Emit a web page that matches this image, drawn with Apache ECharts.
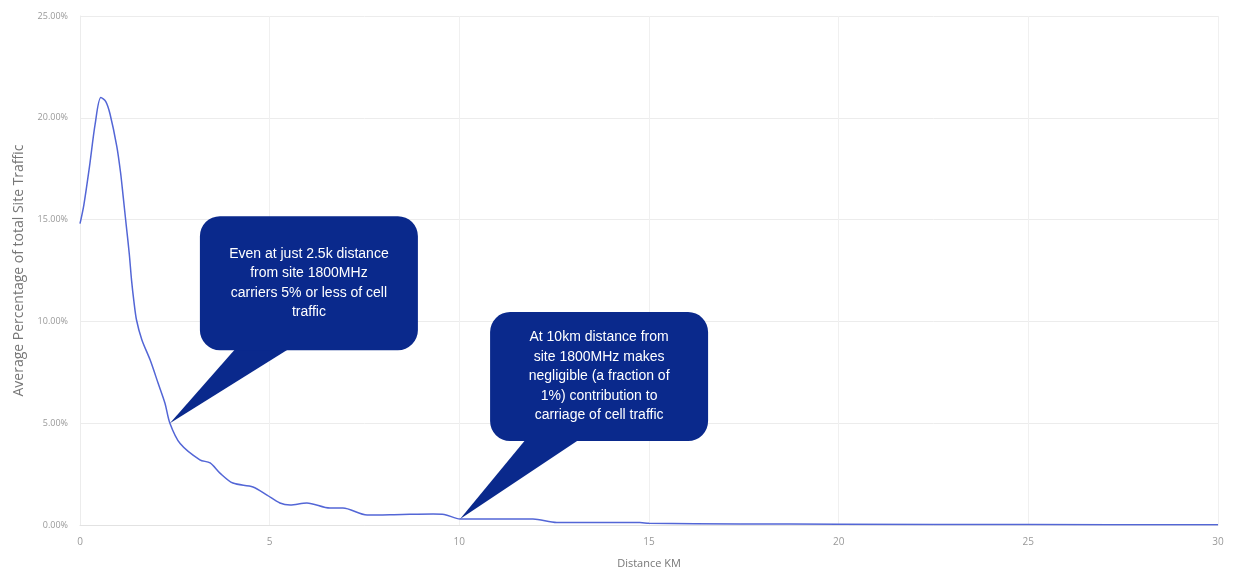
<!DOCTYPE html>
<html>
<head>
<meta charset="utf-8">
<title>Traffic by distance</title>
<script src="https://cdn.jsdelivr.net/npm/echarts@6/dist/echarts.min.js"></script>
<style>
  html, body { margin: 0; padding: 0; background: #fff; }
  #chart { width: 1246px; height: 584px; }
</style>
</head>
<body>
<div id="chart"></div>
<script>
// distance from site (km)
var distanceKm = [0, 0.1, 0.25, 0.4, 0.55, 0.68, 0.79, 0.97, 1.07, 1.14, 1.22, 1.30, 1.36, 1.42, 1.49, 1.63,
    1.85, 2.06, 2.24, 2.37, 2.64, 3.16, 3.43, 3.69, 4.03, 4.56, 4.93, 5.27, 5.54, 5.98, 6.59, 6.93,
    7.57, 8.5, 9.31, 9.6, 10.02, 11.94, 12.57, 14.76, 15.0, 17.4, 20, 25, 30];
// average percentage of total site traffic
var trafficPct = [14.8, 15.7, 17.6, 19.7, 21.0, 20.8, 20.2, 18.6, 17.3, 16.1, 14.7, 13.3, 12.0, 11.0, 10.07, 9.1,
    8.1, 6.96, 5.98, 5.0, 4.0, 3.2, 3.05, 2.55, 2.06, 1.87, 1.47, 1.08, 0.98, 1.08, 0.83, 0.83,
    0.49, 0.52, 0.54, 0.52, 0.29, 0.29, 0.12, 0.12, 0.08, 0.05, 0.04, 0.02, 0.01];

// callouts: point they refer to + text
var calloutAt = [[2.37, 5.0], [10.02, 0.29]];
var calloutText = [
    'Even at just 2.5k distance\nfrom site 1800MHz\ncarriers 5% or less of cell\ntraffic',
    'At 10km distance from\nsite 1800MHz makes\nnegligible (a fraction of\n1%) contribution to\ncarriage of cell traffic'
];
var calloutHeight = [134, 129];
var calloutLift = [73, 78];

var myChart = echarts.init(document.getElementById('chart'));

var points = [];
for (var i = 0; i < distanceKm.length; i++) {
    points.push([distanceKm[i], trafficPct[i]]);
}

var option = {
    backgroundColor: '#fff',
    animation: false,
    grid: { left: 80, right: 28, top: 16, bottom: 59 },
    xAxis: {
        type: 'value',
        min: 0,
        max: 30,
        interval: 5,
        name: 'Distance KM',
        nameLocation: 'middle',
        nameGap: 33,
        nameTextStyle: { color: '#777', fontSize: 11, fontFamily: 'Open Sans' },
        axisLine: { show: true, lineStyle: { color: '#e2e2e2' } },
        axisTick: { show: false },
        axisLabel: { color: '#999', fontSize: 10, margin: 12, fontFamily: 'Open Sans' },
        splitLine: { show: true, lineStyle: { color: '#f0f0f0' } }
    },
    yAxis: {
        type: 'value',
        min: 0,
        max: 25,
        interval: 5,
        name: 'Average Percentage of total Site Traffic',
        nameLocation: 'middle',
        nameGap: 54,
        nameTextStyle: { color: '#777', fontSize: 14, fontFamily: 'Open Sans' },
        axisLine: { show: true, lineStyle: { color: '#ececec' } },
        axisTick: { show: false },
        axisLabel: {
            color: '#999', fontSize: 9, margin: 12, fontFamily: 'Open Sans',
            formatter: function (v) { return v.toFixed(2) + '%'; }
        },
        splitLine: { show: true, lineStyle: { color: '#ececec' } }
    },
    series: [{
        type: 'line',
        data: points,
        smooth: 0.3,
        showSymbol: false,
        lineStyle: { color: '#5366d6', width: 1.5 }
    }]
};
myChart.setOption(option);

// draw callout bubbles pointing at their data point
function drawCallouts() {
    var els = [];
    for (var k = 0; k < calloutAt.length; k++) {
        var tip = myChart.convertToPixel({ gridIndex: 0 }, calloutAt[k]);
        var left = tip[0] + 30;
        var bottom = tip[1] - calloutLift[k];
        var h = calloutHeight[k];
        var w = 218;
        els.push({
            type: 'polygon',
            shape: { points: [[left + 36, bottom - 2], [left + 90, bottom - 2], tip] },
            style: { fill: '#0a298c' },
            z: 100
        });
        els.push({
            type: 'rect',
            shape: { x: left, y: bottom - h, width: w, height: h, r: 20 },
            style: { fill: '#0a298c' },
            z: 100
        });
        els.push({
            type: 'text',
            x: left + w / 2,
            y: bottom - h / 2,
            style: {
                text: calloutText[k],
                fill: '#fff',
                font: '14px "Liberation Sans", Arial, sans-serif',
                lineHeight: 19.5,
                align: 'center',
                verticalAlign: 'middle'
            },
            z: 101
        });
    }
    myChart.setOption({ graphic: { elements: els } });
}
drawCallouts();

window.addEventListener('resize', function () {
    myChart.resize();
    drawCallouts();
});
</script>
</body>
</html>
